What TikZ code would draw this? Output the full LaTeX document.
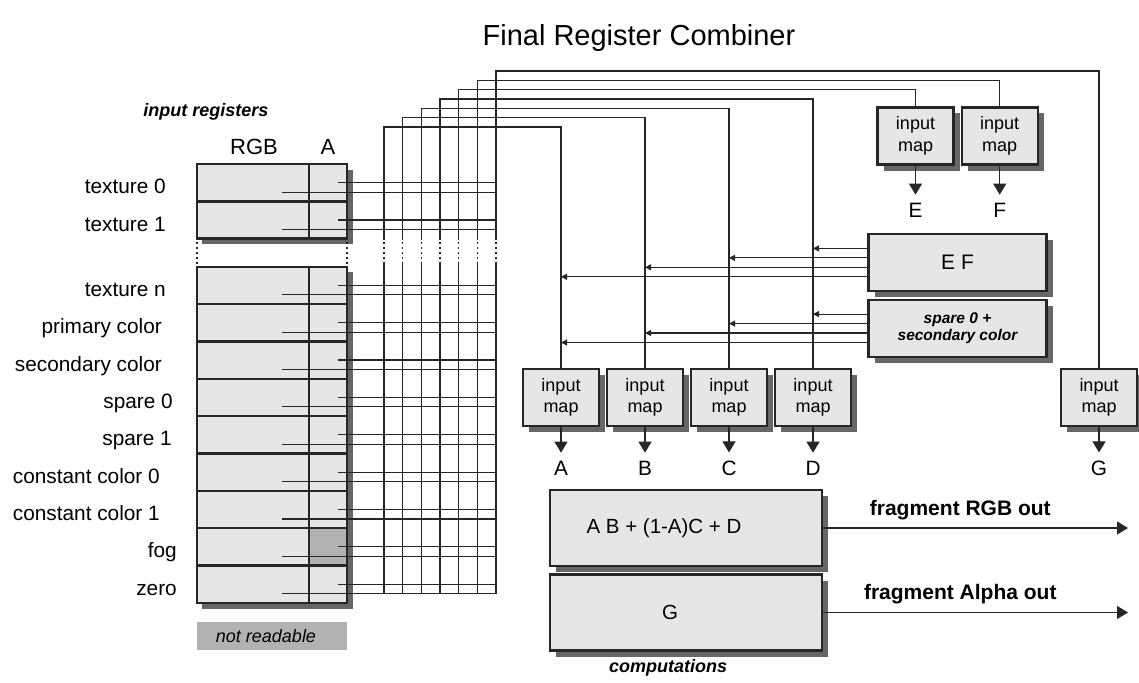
\documentclass[tikz,border=0pt]{standalone}
\usepackage{fontspec}
\setmainfont{Liberation Sans}
\usetikzlibrary{arrows.meta,positioning,shadows}
\definecolor{boxgray}{RGB}{230,230,230}
\definecolor{shadegray}{RGB}{102,102,102}
\definecolor{foggray}{RGB}{178,178,178}
\definecolor{inkgray}{RGB}{38,38,38}
\tikzset{
  lbl/.style={font=\fontsize{20.8}{24}\selectfont,inner sep=0pt},
  boldlbl/.style={font=\fontsize{21}{24}\selectfont\bfseries,inner sep=0pt},
  frame/.style={draw=inkgray,line width=2.4pt},
  bus/.style={draw=inkgray,line width=1.1pt},
  gap/.style={draw=inkgray,line width=1.1pt,dash pattern=on 2pt off 3pt},
  mapbox/.style={draw=inkgray,line width=2.2pt,fill=boxgray,align=center,
    minimum width=76pt,minimum height=57pt,inner sep=0pt,
    font=\fontsize{18}{21.5}\selectfont,
    drop shadow={shadow xshift=6pt,shadow yshift=-6pt,fill=shadegray,opacity=1}},
  combox/.style={mapbox,minimum width=178pt,minimum height=57pt,font=\fontsize{21}{24}\selectfont},
  compbox/.style={mapbox,minimum width=272pt,minimum height=76pt},
  comptxt/.style={font=\fontsize{20.5}{24}\selectfont},
  feed/.style={bus,-{Triangle[length=6pt,width=6pt]}},
  outarr/.style={bus,-{Triangle[length=11pt,width=13pt]}}
}
\begin{document}
\begin{tikzpicture}[x=1pt,y=-1pt]
  \useasboundingbox (0,0) rectangle (1139,682);
  \node[font=\fontsize{29}{32}\selectfont] (title) at (639,38) {Final Register Combiner};
  \node[font=\fontsize{18}{20}\selectfont\bfseries\itshape] (inreg) at (206,112) {input registers};
  \node[font=\fontsize{22}{24}\selectfont] (rgbhead) at (254,147) {RGB};
  \node[font=\fontsize{22}{24}\selectfont] (ahead) at (328,147) {A};
  % register file
  \fill[shadegray] (202,170) rectangle (352.5,244);
  \fill[shadegray] (202,272) rectangle (352.5,608.5);
  \fill[boxgray] (197,164) rectangle (347,238.6);
  \fill[boxgray] (197,266.7) rectangle (347,602.8);
  \fill[foggray] (309,528.1) rectangle (347,565.5);
  \draw[frame] (197,164) rectangle (347,238.6) (197,201.3) -- (347,201.3) (309,164) -- (309,238.6);
  \draw[frame] (197,266.7) rectangle (347,602.8) (309,266.7) -- (309,602.8);
  \foreach \k in {1,...,8}
    \draw[frame] (197,266.7+37.35*\k) -- (347,266.7+37.35*\k);
  \draw[frame,dash pattern=on 2pt off 3pt] (197,242) -- (197,264) (347,242) -- (347,264);
  \foreach \name/\xe/\m [count=\r] in {texture 0/166/182.6,texture 1/166/220,texture n/166/285.4,
      primary color/162/322.7,secondary color/162/360,spare 0/173/397.4,spare 1/172/434.8,
      constant color 0/160/472.1,constant color 1/160/509.5,fog/177/546.8,zero/177/584.2}
  {
    \node[lbl,anchor=base east] (reg\r) at (\xe,\m+11) {\name};
    \draw[bus] (338,\m) -- (496,\m) (282,\m+9.5) -- (496,\m+9.5);
  }
  \node[fill=foggray,minimum width=150pt,minimum height=28pt,
        label={[xshift=-6pt,font=\fontsize{18}{20}\selectfont\itshape]center:not readable}]
        (nread) at (272,636) {};
  % input mappings
  \node[mapbox] (mapA) at (561,397.5) {input\\map};
  \node[mapbox] (mapB) at (645,397.5) {input\\map};
  \node[mapbox] (mapC) at (729,397.5) {input\\map};
  \node[mapbox] (mapD) at (813,397.5) {input\\map};
  \node[mapbox] (mapG) at (1099,397.5) {input\\map};
  \node[mapbox] (mapE) at (915.5,136) {input\\map};
  \node[mapbox] (mapF) at (999.7,136) {input\\map};
  \foreach \v/\x/\y in {A/561/468,B/645/468,C/729/468,D/813/468,G/1099/468,E/915.5/210,F/999.7/210}
  {
    \node[lbl] (let\v) at (\x,\y) {\v};
    \draw[outarr,shorten >=8pt] (map\v.south) -- (let\v.north);
  }
  % register buses
  \foreach \i/\t in {0/mapA,1/mapB,2/mapC,3/mapD,4/mapE,5/mapF,6/mapG}
  {
    \pgfmathsetmacro\bx{384+18.67*\i}
    \pgfmathsetmacro\by{127-9.33*\i}
    \draw[bus] (\bx,593.7) -- (\bx,264);
    \draw[gap] (\bx,264) -- (\bx,240);
    \draw[bus] (\bx,240) -- (\bx,\by) -| (\t.north);
  }
  % products fed back
  \node[combox] (ef) at (957.5,262.6) {E F};
  \node[combox,font=\fontsize{15.5}{17}\selectfont\bfseries\itshape] (spare) at (957.5,328.3)
    {spare 0 +\\secondary color};
  \foreach \src in {ef,spare}
    \foreach \t/\dy in {mapD/14.2,mapC/4.7,mapB/-4.7,mapA/-14.2}
    {
      \path ([yshift=\dy pt]\src.west) coordinate (s);
      \draw[feed] (s) -- (s -| \t);
    }
  % computations
  \node[compbox,label={[comptxt,xshift=-22pt]center:A B + (1-A)C + D}] (rgbcomp) at (686,528) {};
  \node[compbox,label={[comptxt,xshift=-16pt]center:G}] (alphacomp) at (686,612.5) {};
  \node[font=\fontsize{18}{20}\selectfont\bfseries\itshape] (comptext) at (668,668) {computations};
  \coordinate (rgbout) at (1128,528);
  \coordinate (alphaout) at (1128,612.5);
  \draw[outarr] (rgbcomp) -- (rgbout) node[boldlbl,pos=0.45,above=8pt] {fragment RGB out};
  \draw[outarr] (alphacomp) -- (alphaout) node[boldlbl,pos=0.45,above=8pt] {fragment Alpha out};
\end{tikzpicture}
\end{document}
